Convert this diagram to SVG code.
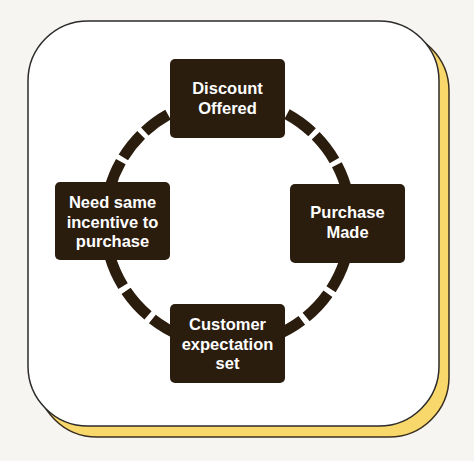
<svg xmlns="http://www.w3.org/2000/svg" width="474" height="461" viewBox="0 0 474 461">
  <style>
    .node rect { fill: #2b1d0e; }
    .node text { fill: #ffffff; font-family: "Liberation Sans", Arial, sans-serif; font-weight: bold; font-size: 16.5px; text-anchor: middle; }
    .ring { fill: none; stroke: #2b1d0e; stroke-width: 11; }
  </style>
  <rect x="0" y="0" width="474" height="461" fill="#f7f5f1"/>
  <g id="card">
    <rect x="37" y="31" width="412" height="406" rx="60" ry="60" fill="#f9d86b" stroke="#3a2f1e" stroke-width="1.5"/>
    <rect x="28" y="21" width="411" height="405" rx="60" ry="60" fill="#ffffff" stroke="#2b2b2b" stroke-width="1.5"/>
  </g>
  <g id="connectors">
    <path class="ring" d="M253.36,101.64 A123,123 0 0 1 350.53,211.28" stroke-dasharray="31 5"/>
    <path class="ring" d="M350.99,223.5 A123,123 0 0 1 217.28,344.53" stroke-dasharray="32 5.5"/>
    <path class="ring" d="M218.14,344.6 A123,123 0 0 1 105.47,211.28" stroke-dasharray="33 5.6"/>
    <path class="ring" d="M105,221.36 A123,123 0 0 1 238.72,99.47" stroke-dasharray="28.7 5"/>
  </g>
  <g id="node-discount" class="node">
    <rect x="170" y="59" width="115" height="79" rx="5"/>
    <text x="227.5" y="94">Discount</text>
    <text x="227.5" y="113.5">Offered</text>
  </g>
  <g id="node-purchase" class="node">
    <rect x="290" y="184" width="115" height="79" rx="5"/>
    <text x="347.5" y="218">Purchase</text>
    <text x="347.5" y="237.5">Made</text>
  </g>
  <g id="node-customer" class="node">
    <rect x="170" y="304" width="115" height="79" rx="5"/>
    <text x="227.5" y="330">Customer</text>
    <text x="227.5" y="349.5">expectation</text>
    <text x="227.5" y="369">set</text>
  </g>
  <g id="node-need" class="node">
    <rect x="55" y="182" width="115" height="78" rx="5"/>
    <text x="112.5" y="208">Need same</text>
    <text x="112.5" y="227.5">incentive to</text>
    <text x="112.5" y="247">purchase</text>
  </g>
</svg>
